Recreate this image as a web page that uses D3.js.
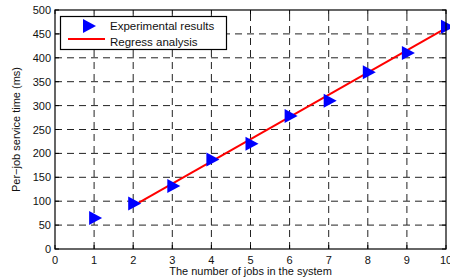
<!DOCTYPE html>
<html>
<head>
<meta charset="utf-8">
<script src="https://cdn.jsdelivr.net/npm/d3@7"></script>
<style>
    body { margin: 0; background: #fff; }
    svg { font-family: "Liberation Sans", Arial, sans-serif; }
    .grid line { stroke: #222; stroke-dasharray: 7 5; stroke-width: 1; }
    .tick-label { font-size: 11px; fill: #111; }
    .axis-title { font-size: 11px; fill: #111; }
    .legend-text { font-size: 11.5px; fill: #111; }
</style>
</head>
<body>
<div id="chart"></div>
<script>
const jobs = [1, 2, 3, 4, 5, 6, 7, 8, 9, 10];
const serviceTimes = [65, 95, 132, 187, 220, 278, 310, 370, 410, 465];
const regressX = [2, 10];
const regressY = [90, 462];
const xTicks = [0, 1, 2, 3, 4, 5, 6, 7, 8, 9, 10];
const yTicks = [0, 50, 100, 150, 200, 250, 300, 350, 400, 450, 500];

const buildChart = element => {
    const width = 450;
    const height = 279;
    const margin = { left: 55, right: 4, top: 10, bottom: 30 };
    const tickLen = 4;

    const svg = d3.select(element)
        .append("svg")
        .attr("width", width)
        .attr("height", height);

    const x = d3.scaleLinear().domain([0, 10]).range([margin.left, width - margin.right]);
    const y = d3.scaleLinear().domain([0, 500]).range([height - margin.bottom, margin.top]);

    const [x0, x1] = x.range();
    const [y0, y1] = y.range();

    // dashed grid, skipping the lines on the box edges
    const grid = svg.append("g").attr("class", "grid");
    xTicks.slice(1, -1).forEach(t => {
        grid.append("line")
            .attr("x1", x(t)).attr("x2", x(t))
            .attr("y1", y0).attr("y2", y1);
    });
    yTicks.slice(1, -1).forEach(t => {
        grid.append("line")
            .attr("x1", x0).attr("x2", x1)
            .attr("y1", y(t)).attr("y2", y(t));
    });

    // inward ticks on all four sides
    const ticks = svg.append("g").attr("stroke", "#000").attr("stroke-width", 1);
    xTicks.forEach(t => {
        ticks.append("line").attr("x1", x(t)).attr("x2", x(t)).attr("y1", y0).attr("y2", y0 - tickLen);
        ticks.append("line").attr("x1", x(t)).attr("x2", x(t)).attr("y1", y1).attr("y2", y1 + tickLen);
    });
    yTicks.forEach(t => {
        ticks.append("line").attr("x1", x0).attr("x2", x0 + tickLen).attr("y1", y(t)).attr("y2", y(t));
        ticks.append("line").attr("x1", x1).attr("x2", x1 - tickLen).attr("y1", y(t)).attr("y2", y(t));
    });

    // tick labels
    xTicks.forEach(t => {
        svg.append("text")
            .attr("x", x(t))
            .attr("y", y0 + 15)
            .attr("text-anchor", "middle")
            .attr("class", "tick-label")
            .text(t);
    });
    yTicks.forEach(t => {
        svg.append("text")
            .attr("x", x0 - 4)
            .attr("y", y(t) + 4)
            .attr("text-anchor", "end")
            .attr("class", "tick-label")
            .text(t);
    });

    // regression line
    const line = d3.line().x(d => x(d[0])).y(d => y(d[1]));
    svg.append("path")
        .datum(d3.zip(regressX, regressY))
        .attr("d", line)
        .attr("fill", "none")
        .attr("stroke", "#f00")
        .attr("stroke-width", 2);

    // triangle markers pointing right
    const tri = "M-5,-7L8,0L-5,7Z";
    svg.append("g")
        .selectAll("path")
        .data(d3.zip(jobs, serviceTimes))
        .join("path")
        .attr("d", tri)
        .attr("transform", d => `translate(${x(d[0])},${y(d[1])})`)
        .attr("fill", "#0000ff");

    // legend
    const legend = svg.append("g");
    legend.append("rect")
        .attr("x", 60.5).attr("y", 16.5)
        .attr("width", 166).attr("height", 33)
        .attr("fill", "#fff").attr("stroke", "#000").attr("stroke-width", 1.2);
    legend.append("path")
        .attr("d", tri)
        .attr("transform", "translate(88,26)")
        .attr("fill", "#0000ff");
    legend.append("line")
        .attr("x1", 68).attr("x2", 105)
        .attr("y1", 39).attr("y2", 39)
        .attr("stroke", "#f00").attr("stroke-width", 2);
    legend.append("text")
        .attr("x", 110).attr("y", 30)
        .attr("class", "legend-text")
        .text("Experimental results");
    legend.append("text")
        .attr("x", 110).attr("y", 46)
        .attr("class", "legend-text")
        .text("Regress analysis");

    // box
    svg.append("rect")
        .attr("x", x0).attr("y", y1)
        .attr("width", x1 - x0).attr("height", y0 - y1)
        .attr("fill", "none").attr("stroke", "#000").attr("stroke-width", 1.2);

    // axis titles
    svg.append("text")
        .attr("x", (x0 + x1) / 2)
        .attr("y", y0 + 26)
        .attr("text-anchor", "middle")
        .attr("class", "axis-title")
        .text("The number of jobs in the system");
    svg.append("text")
        .attr("transform", `translate(20,${(y0 + y1) / 2}) rotate(-90)`)
        .attr("text-anchor", "middle")
        .attr("class", "axis-title")
        .text("Per\u2212job service time (ms)");
};

buildChart(document.getElementById("chart"));
</script>
</body>
</html>
